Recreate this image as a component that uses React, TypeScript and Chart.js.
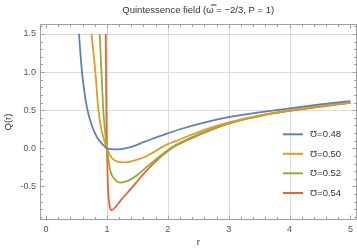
import { useEffect, useRef } from "react";
import { Chart, registerables } from "chart.js";

Chart.register(...registerables);

const chartTitle = "Quintessence field (\u03C9\u033F = \u22122/3, P = 1)";
const xAxisLabel = "r";
const yAxisLabel = "Q(r)";
const seriesNames = ["\u01B1=0.48", "\u01B1=0.50", "\u01B1=0.52", "\u01B1=0.54"];
const seriesColors = ["#5E81B5", "#E19C24", "#8FB032", "#EB6235"];
const xTickValues = [0, 1, 2, 3, 4, 5];
const yTickValues = [-0.5, 0, 0.5, 1, 1.5];
const xGridValues = [1, 2, 3, 4];
const yGridValues = [0.5, 1, 1.5];

const r048 = [0.54, 0.59, 0.675, 0.78, 0.84, 0.89, 0.95, 1.0, 1.17, 1.3, 1.44, 1.6, 1.8, 2.0, 2.2, 2.53, 3.0, 3.5, 4.0, 4.5, 5.0];
const q048 = [1.5, 1.0, 0.52, 0.24, 0.14, 0.085, 0.035, 0.0, -0.013, 0.0, 0.03, 0.08, 0.14, 0.195, 0.25, 0.325, 0.41, 0.47, 0.525, 0.575, 0.62];

const r050 = [0.746, 0.81, 0.86, 0.9, 0.95, 1.0, 1.085, 1.18, 1.28, 1.4, 1.63, 2.0, 2.12, 2.3, 2.61, 3.0, 3.5, 4.0, 4.5, 5.0];
const q050 = [1.5, 1.0, 0.5, 0.28, 0.12, 0.0, -0.13, -0.175, -0.185, -0.17, -0.11, 0.055, 0.09, 0.15, 0.245, 0.34, 0.43, 0.5, 0.555, 0.6];

const r052 = [0.88, 0.91, 0.94, 0.96, 0.98, 1.0, 1.03, 1.057, 1.12, 1.22, 1.36, 1.5, 1.63, 1.9, 2.0, 2.12, 2.3, 2.6, 3.0, 3.5, 4.0, 4.5, 5.0];
const q052 = [1.5, 1.0, 0.5, 0.3, 0.14, 0.0, -0.18, -0.3, -0.4, -0.45, -0.42, -0.35, -0.26, -0.085, -0.025, 0.04, 0.11, 0.215, 0.33, 0.425, 0.495, 0.55, 0.597];

const r054 = [0.98, 0.985, 0.99, 1.0, 1.01, 1.025, 1.045, 1.074, 1.14, 1.22, 1.3, 1.47, 1.63, 1.9, 2.0, 2.12, 2.3, 2.61, 3.0, 3.5, 3.84, 4.0, 4.5, 5.0];
const q054 = [1.5, 1.0, 0.5, 0.0, -0.35, -0.62, -0.76, -0.81, -0.77, -0.69, -0.615, -0.46, -0.31, -0.1, -0.035, 0.03, 0.1, 0.21, 0.325, 0.42, 0.47, 0.49, 0.545, 0.595];

const seriesR = [r048, r050, r052, r054];
const seriesQ = [q048, q050, q052, q054];

const FONT = "'Liberation Sans', Arial, sans-serif";

const decorPlugin = {
  id: "decor",
  beforeDatasetsDraw(chart: any) {
    const { ctx, chartArea: a, scales } = chart;
    ctx.save();
    ctx.strokeStyle = "#dcdcdc";
    ctx.lineWidth = 1;
    for (const v of xGridValues) {
      const x = Math.round(scales.x.getPixelForValue(v)) + 0.5;
      ctx.beginPath();
      ctx.moveTo(x, a.top);
      ctx.lineTo(x, a.bottom);
      ctx.stroke();
    }
    for (const v of yGridValues) {
      const y = Math.round(scales.y.getPixelForValue(v)) + 0.5;
      ctx.beginPath();
      ctx.moveTo(a.left, y);
      ctx.lineTo(a.right, y);
      ctx.stroke();
    }
    ctx.restore();
  },
  afterDraw(chart: any) {
    const { ctx, chartArea: a, scales } = chart;
    ctx.save();
    ctx.strokeStyle = "#a0a0a0";
    ctx.lineWidth = 1;
    const L = Math.round(a.left) + 0.5;
    const R = Math.round(a.right) - 0.5;
    const T = Math.round(a.top) + 0.5;
    const B = Math.round(a.bottom) - 0.5;
    ctx.strokeRect(L, T, R - L, B - T);
    ctx.beginPath();
    for (let k = 0; k <= 25; k++) {
      const v = k * 0.2;
      const major = k % 5 === 0;
      const len = major ? 4 : 2.5;
      const x = Math.round(scales.x.getPixelForValue(v)) + 0.5;
      ctx.moveTo(x, B);
      ctx.lineTo(x, B - len);
      ctx.moveTo(x, T);
      ctx.lineTo(x, T + len);
    }
    for (let k = -9; k <= 16; k++) {
      const v = k * 0.1;
      const major = k % 5 === 0;
      const len = major ? 4 : 2.5;
      const y = Math.round(scales.y.getPixelForValue(v)) + 0.5;
      ctx.moveTo(L, y);
      ctx.lineTo(L + len, y);
      ctx.moveTo(R, y);
      ctx.lineTo(R - len, y);
    }
    ctx.stroke();

    const cx = (a.left + a.right) / 2;
    const cy = (a.top + a.bottom) / 2;
    ctx.fillStyle = "#333";
    ctx.textAlign = "center";
    ctx.textBaseline = "middle";
    ctx.font = `9.5px ${FONT}`;
    ctx.fillText(chartTitle, cx, 10);
    ctx.fillText(xAxisLabel, cx, 242);
    ctx.save();
    ctx.translate(8, cy);
    ctx.rotate(-Math.PI / 2);
    ctx.fillText(yAxisLabel, 0, 0);
    ctx.restore();

    const rows = [134.3, 153.8, 173.3, 193];
    ctx.textAlign = "left";
    for (let i = 0; i < seriesNames.length; i++) {
      const y = rows[i];
      ctx.strokeStyle = seriesColors[i];
      ctx.lineWidth = 2;
      ctx.beginPath();
      ctx.moveTo(283, y);
      ctx.lineTo(303, y);
      ctx.stroke();
      ctx.fillStyle = "#333";
      ctx.fillText(seriesNames[i], 310, y + 0.5);
    }
    ctx.restore();
  },
};

export default function App() {
  const ref = useRef<HTMLCanvasElement | null>(null);
  useEffect(() => {
    if (!ref.current) return;
    const datasets = seriesNames.map((name, i) => ({
      label: name,
      data: seriesR[i].map((r, j) => ({ x: r, y: seriesQ[i][j] })),
      borderColor: seriesColors[i],
      backgroundColor: seriesColors[i],
      borderWidth: 1.8,
      pointRadius: 0,
      cubicInterpolationMode: "monotone" as const,
      fill: false,
    }));
    const chart = new Chart(ref.current, {
      type: "line",
      data: { datasets },
      plugins: [decorPlugin],
      options: {
        animation: false,
        responsive: false,
        devicePixelRatio: 1,
        layout: { padding: { left: 0, right: 0.5, top: 24, bottom: 0 } },
        plugins: { legend: { display: false }, title: { display: false }, tooltip: { enabled: false } },
        scales: {
          x: {
            type: "linear",
            min: -0.1,
            max: 5.1,
            grid: { display: false, drawTicks: false },
            border: { display: false },
            ticks: {
              padding: 4,
              color: "#555",
              font: { family: FONT, size: 9 },
              callback: (v: any) => String(v),
            },
            afterBuildTicks: (axis: any) => {
              axis.ticks = xTickValues.map((v) => ({ value: v }));
            },
            afterFit: (axis: any) => {
              axis.height = 28;
            },
          },
          y: {
            type: "linear",
            min: -0.94,
            max: 1.63,
            grid: { display: false, drawTicks: false },
            border: { display: false },
            ticks: {
              padding: 4,
              color: "#555",
              font: { family: FONT, size: 9 },
              callback: (v: any) => Number(v).toFixed(1),
            },
            afterBuildTicks: (axis: any) => {
              axis.ticks = yTickValues.map((v) => ({ value: v }));
            },
            afterFit: (axis: any) => {
              axis.width = 40;
            },
          },
        },
      },
    });
    return () => chart.destroy();
  }, []);
  return (
    <div style={{ position: "absolute", left: 0, top: 0, width: 357, height: 248, background: "#fff" }}>
      <canvas ref={ref} width={357} height={248} />
    </div>
  );
}
